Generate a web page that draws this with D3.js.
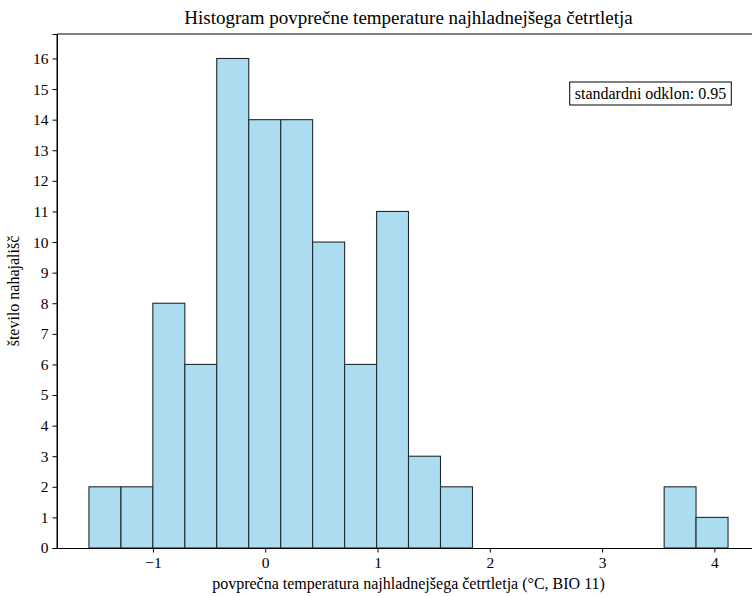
<!DOCTYPE html>
<html>
<head>
<meta charset="utf-8">
<script src="https://cdn.jsdelivr.net/npm/d3@7"></script>
<style>
  html, body { margin: 0; padding: 0; background: #fff; }
  svg { display: block; }
  text { font-family: "Liberation Serif", "Times New Roman", serif; fill: #000; }
</style>
</head>
<body>
<svg id="chart" width="752" height="596"></svg>
<script>
// ---- data ----
const binEdges = [-1.570, -1.285, -1.001, -0.716, -0.432, -0.147, 0.138, 0.422, 0.707, 0.992,
                  1.276, 1.561, 1.846, 2.130, 2.415, 2.699, 2.984, 3.268, 3.553, 3.837, 4.122];
const counts = [2, 2, 8, 6, 16, 14, 14, 10, 6, 11, 3, 2, 0, 0, 0, 0, 0, 0, 2, 1];
const xTicks = [-1, 0, 1, 2, 3, 4];
const yTicks = d3.range(0, 17);
const titleText = "Histogram povprečne temperature najhladnejšega četrtletja";
const xLabel = "povprečna temperatura najhladnejšega četrtletja (°C, BIO 11)";
const yLabel = "število nahajališč";
const statLabel = "standardni odklon: 0.95";

// ---- layout ----
const svg = d3.select("#chart");
const pLeft = 57, pTop = 34, pRight = 760, pBottom = 548;

const xMin = binEdges[0], xMax = binEdges[binEdges.length - 1];
const xPad = 0.05 * (xMax - xMin);
const yMax = d3.max(counts) * 1.05;

const x = d3.scaleLinear().domain([xMin - xPad, xMax + xPad]).range([pLeft, pRight]);
const y = d3.scaleLinear().domain([0, yMax]).range([pBottom, pTop]);

const bins = counts.map((c, i) => ({ x0: binEdges[i], x1: binEdges[i + 1], count: c }));

svg.append("g").selectAll("rect")
  .data(bins.filter(b => b.count > 0))
  .join("rect")
  .attr("x", d => x(d.x0))
  .attr("y", d => y(d.count))
  .attr("width", d => x(d.x1) - x(d.x0))
  .attr("height", d => y(0) - y(d.count))
  .attr("fill", "#abdcf0")
  .attr("stroke", "#1f2a30")
  .attr("stroke-width", 1.1);

// spines
svg.append("line").attr("x1", pLeft).attr("x2", pLeft).attr("y1", pTop).attr("y2", pBottom)
  .attr("stroke", "#000").attr("stroke-width", 1);
svg.append("line").attr("x1", pLeft).attr("x2", pRight).attr("y1", pTop).attr("y2", pTop)
  .attr("stroke", "#000").attr("stroke-width", 1);
svg.append("line").attr("x1", pRight).attr("x2", pRight).attr("y1", pTop).attr("y2", pBottom)
  .attr("stroke", "#000").attr("stroke-width", 1);

// axes
const xAxis = svg.append("g").attr("transform", `translate(0,${pBottom})`)
  .call(d3.axisBottom(x).tickValues(xTicks).tickSize(4.5).tickPadding(4)
    .tickFormat(d => d < 0 ? "\u2212" + Math.abs(d) : String(d)));
const yAxis = svg.append("g").attr("transform", `translate(${pLeft},0)`)
  .call(d3.axisLeft(y).tickValues(yTicks).tickSize(4.5).tickPadding(4));
[xAxis, yAxis].forEach(g => {
  g.attr("font-family", null).attr("font-size", null);
  g.select(".domain").attr("stroke", "#000").attr("stroke-width", 1);
  g.selectAll(".tick line").attr("stroke", "#000").attr("stroke-width", 1);
  g.selectAll(".tick text").style("font-family", '"Liberation Serif", serif')
    .style("font-size", "15.5px").attr("fill", "#000");
});
xAxis.select(".domain").attr("d", `M${pLeft},0.5H${pRight}`);

// labels
svg.append("text").attr("x", (pLeft + pRight) / 2).attr("y", 24)
  .attr("text-anchor", "middle").style("font-size", "19px").text(titleText);
svg.append("text").attr("x", (pLeft + pRight) / 2).attr("y", 589)
  .attr("text-anchor", "middle").style("font-size", "16px").text(xLabel);
svg.append("text")
  .attr("transform", `translate(19,${(pTop + pBottom) / 2}) rotate(-90)`)
  .attr("text-anchor", "middle").style("font-size", "16px").text(yLabel);

// stat box
const statG = svg.append("g");
const st = statG.append("text").attr("x", 650.5).attr("y", 99)
  .attr("text-anchor", "middle").style("font-size", "16px").text(statLabel);
const bb = st.node().getBBox();
statG.insert("rect", "text")
  .attr("x", bb.x - 5).attr("y", 82).attr("width", bb.width + 10).attr("height", 23)
  .attr("fill", "#fff").attr("stroke", "#000").attr("stroke-width", 1);
</script>
</body>
</html>
